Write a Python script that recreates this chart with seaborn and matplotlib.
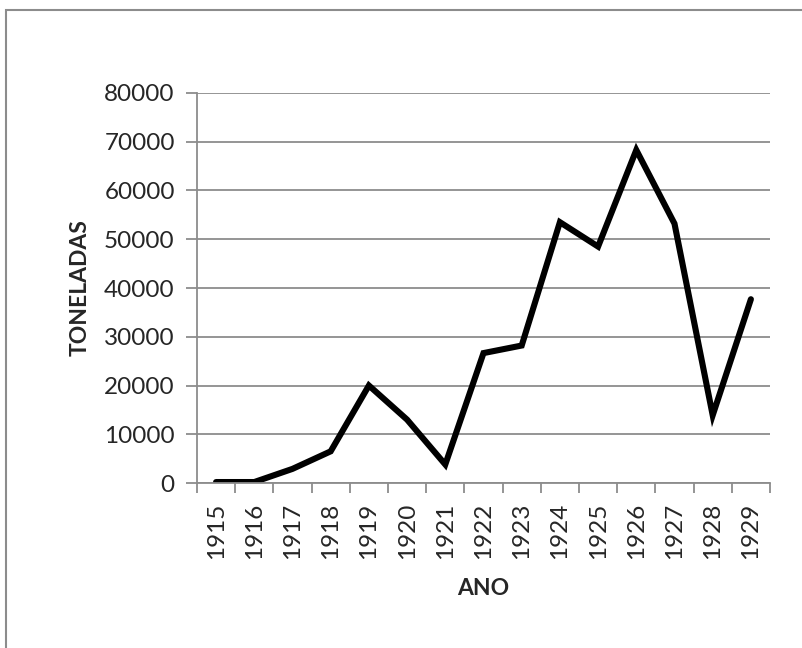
import matplotlib
matplotlib.use("Agg")
import matplotlib.pyplot as plt
import seaborn as sns
import pandas as pd
from matplotlib.patches import Rectangle
from matplotlib.ticker import FixedLocator

# data
anos = ["1915", "1916", "1917", "1918", "1919", "1920", "1921", "1922",
        "1923", "1924", "1925", "1926", "1927", "1928", "1929"]
toneladas = [200, 200, 2900, 6500, 20000, 13000, 3800, 26650,
             28200, 53500, 48500, 68300, 53200, 13900, 37700]
y_ticks = [0, 10000, 20000, 30000, 40000, 50000, 60000, 70000, 80000]

df = pd.DataFrame({"ANO": anos, "TONELADAS": toneladas})

sns.set_style("white")
plt.rcParams['font.family'] = ['Lato', 'DejaVu Sans']

fig = plt.figure(figsize=(8.03, 6.48), dpi=100)
ax = fig.add_axes([0.2453, 0.2546, 0.9589 - 0.2453, 0.8565 - 0.2546])

sns.lineplot(data=df, x="ANO", y="TONELADAS", color="black", linewidth=4.4,
             ax=ax, solid_joinstyle="miter")

ax.set_xlim(-0.5, len(anos) - 0.5)
ax.set_ylim(0, 80000)
ax.set_yticks(y_ticks)
ax.set_yticklabels([str(v) for v in y_ticks])
ax.grid(axis="y", color="#8c8c8c", linewidth=1.3)
ax.set_axisbelow(True)

grey = "#8c8c8c"
for s in ["top", "right"]:
    ax.spines[s].set_visible(False)
for s in ["left", "bottom"]:
    ax.spines[s].set_color(grey)
    ax.spines[s].set_linewidth(1.3)

# labels at category centres, tick marks at category boundaries
ax.set_xticks(range(len(anos)))
ax.set_xticklabels(anos, rotation=90)
ax.xaxis.set_minor_locator(FixedLocator([i - 0.5 for i in range(len(anos) + 1)]))
ax.tick_params(axis="x", which="major", length=0, pad=14, labelsize=17.5)
ax.tick_params(axis="x", which="minor", length=7, width=1.3, color=grey, direction="out", bottom=True)
ax.tick_params(axis="y", length=8, width=1.3, color=grey, direction="out", left=True, labelsize=17.5, pad=8)

ax.set_xlabel("ANO", fontsize=16.5, fontweight="bold", labelpad=14)
ax.set_ylabel("TONELADAS", fontsize=16.5, fontweight="bold", labelpad=10)

# outer chart border (right/bottom edges fall outside the image)
fig.patches.append(Rectangle((6 / 803, -0.1), 1.2, 1 - 10 / 648 + 0.1,
                             transform=fig.transFigure, fill=False,
                             edgecolor=grey, linewidth=1.5))

fig.savefig("out.png", dpi=100)
